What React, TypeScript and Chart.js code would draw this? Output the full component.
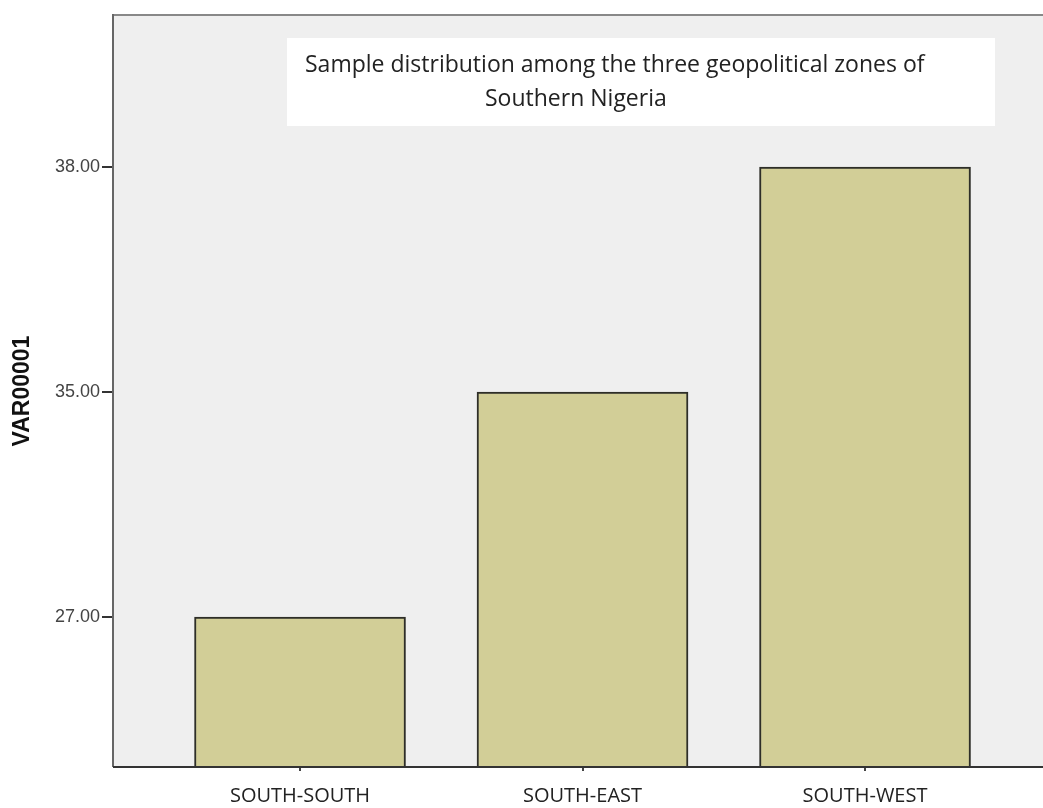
import React, { useEffect, useRef } from "react";
import { Chart, registerables } from "chart.js";

Chart.register(...registerables);

const categories = ["SOUTH-SOUTH", "SOUTH-EAST", "SOUTH-WEST"];
const values = [27, 35, 38];
const yTickValues = [27, 35, 38];
const yAxisTitle = "VAR00001";
const titleLines = [
  "Sample distribution among the three geopolitical zones of",
  "Southern Nigeria",
];

const rankOf = (v: number) => yTickValues.indexOf(v) + 1;

const framePlugin = {
  id: "spssFrame",
  beforeDraw(chart: any) {
    const { ctx, chartArea: a, width, height } = chart;
    ctx.save();
    ctx.fillStyle = "#ffffff";
    ctx.fillRect(0, 0, width, height);
    ctx.fillStyle = "#efefef";
    ctx.fillRect(a.left, a.top, a.right - a.left, a.bottom - a.top);
    // title box
    const bx = a.left + 174;
    const by = a.top + 23;
    ctx.fillStyle = "#ffffff";
    ctx.fillRect(bx, by, 708, 88);
    ctx.fillStyle = "#222222";
    ctx.font = '23px "Open Sans"';
    ctx.textBaseline = "middle";
    ctx.textAlign = "left";
    ctx.fillText(titleLines[0], bx + 18, by + 27);
    ctx.fillText(titleLines[1], bx + 198, by + 61);
    ctx.restore();
  },
  afterDatasetsDraw(chart: any) {
    const { ctx, chartArea: a } = chart;
    ctx.save();
    ctx.lineWidth = 2;
    ctx.strokeStyle = "#888888";
    ctx.beginPath();
    ctx.moveTo(a.left, a.top);
    ctx.lineTo(a.right, a.top);
    ctx.stroke();
    ctx.strokeStyle = "#666666";
    ctx.beginPath();
    ctx.moveTo(a.left, a.top - 1);
    ctx.lineTo(a.left, a.bottom);
    ctx.stroke();
    ctx.strokeStyle = "#333333";
    ctx.beginPath();
    ctx.moveTo(a.left, a.bottom);
    ctx.lineTo(a.right, a.bottom);
    ctx.stroke();
    ctx.restore();
  },
};

export default function App() {
  const ref = useRef<HTMLCanvasElement | null>(null);
  useEffect(() => {
    if (!ref.current) return;
    const chart = new Chart(ref.current, {
      type: "bar",
      data: {
        datasets: [
          {
            data: values.map((v, i) => ({ x: i, y: rankOf(v) })),
            backgroundColor: "#d2ce97",
            borderColor: "#2e2e28",
            borderWidth: 2,
            barThickness: 211,
          },
        ],
      },
      options: {
        animation: false,
        responsive: false,
        maintainAspectRatio: false,
        layout: { padding: { top: 15, right: 0, left: 0, bottom: 0 } },
        plugins: {
          legend: { display: false },
          tooltip: { enabled: false },
          title: { display: false },
        },
        scales: {
          x: {
            type: "linear",
            offset: false,
            min: -0.662,
            max: 2.63,
            afterBuildTicks: (s: any) => {
              s.ticks = categories.map((_, i) => ({ value: i }));
            },
            afterFit: (s: any) => {
              s.height = 41;
            },
            ticks: {
              callback: (v: any) => categories[Number(v)] ?? "",
              color: "#222222",
              font: { family: "Open Sans", size: 20 },
              padding: 13,
              maxRotation: 0,
              autoSkip: false,
            },
            grid: {
              display: true,
              offset: false,
              drawOnChartArea: false,
              drawTicks: true,
              tickLength: 4,
              color: "#444444",
              lineWidth: 2,
            },
            border: { display: false },
          },
          y: {
            type: "linear",
            min: 1 - 150 / 225,
            max: 3 + 152 / 225,
            afterBuildTicks: (s: any) => {
              s.ticks = yTickValues.map((_, i) => ({ value: i + 1 }));
            },
            afterFit: (s: any) => {
              s.width = 113;
            },
            ticks: {
              callback: (v: any) => yTickValues[Number(v) - 1].toFixed(2),
              color: "#444444",
              font: { family: "Liberation Sans", size: 18 },
              padding: 2,
              autoSkip: false,
            },
            grid: {
              display: true,
              drawOnChartArea: false,
              drawTicks: true,
              tickLength: 11,
              color: "#333333",
              lineWidth: 2,
            },
            border: { display: false },
            title: {
              display: true,
              text: yAxisTitle,
              color: "#111111",
              font: { family: "Liberation Sans", size: 23, weight: "bold" },
              padding: { top: 9, bottom: 0 },
            },
          },
        },
      },
      plugins: [framePlugin],
    });
    return () => chart.destroy();
  }, []);
  return (
    <div style={{ position: "absolute", left: 0, top: 0, width: 1043, height: 808 }}>
      <canvas ref={ref} width={1043} height={808} style={{ width: 1043, height: 808 }} />
    </div>
  );
}
